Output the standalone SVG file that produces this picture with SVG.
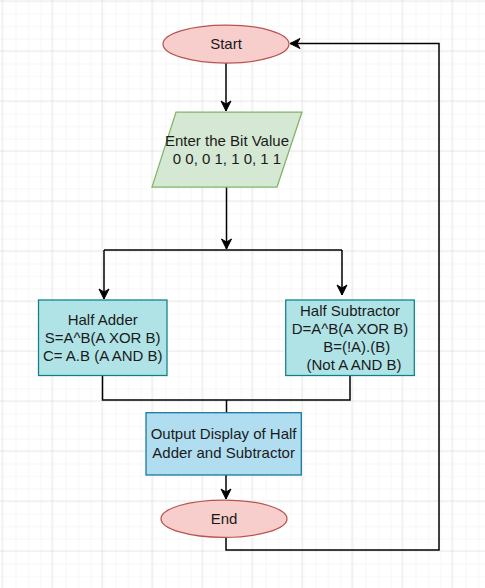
<svg xmlns="http://www.w3.org/2000/svg" width="485" height="588" viewBox="0 0 485 588">
  <defs>
    <pattern id="minor" x="1.5" y="0.5" width="12.5" height="12.5" patternUnits="userSpaceOnUse">
      <path d="M 0 0 L 0 12.5 M 0 0 L 12.5 0" fill="none" stroke="#ededed" stroke-width="1"/>
    </pattern>
    <pattern id="major" x="1.5" y="0.5" width="50" height="50" patternUnits="userSpaceOnUse">
      <rect width="50" height="50" fill="url(#minor)"/>
      <path d="M 0 0 L 0 50 M 0 0 L 50 0" fill="none" stroke="#d6d6d6" stroke-width="1"/>
    </pattern>
    <marker id="arrow" markerUnits="userSpaceOnUse" markerWidth="12" markerHeight="12" viewBox="-11 -6 12 12" refX="0" refY="0" orient="auto">
      <path d="M -10 -5 L 0 0 L -10 5 L -7 0 Z" fill="#000" stroke="#000" stroke-width="1"/>
    </marker>
    <style>
      .conn { fill: none; stroke: #000; stroke-width: 1.5; }
      .txt { font-family: "Liberation Sans", Arial, sans-serif; font-size: 15px; fill: #1a1a1a; text-anchor: middle; }
      .term { fill: #f8cecc; stroke: #b85450; stroke-width: 1.25; }
      .io { fill: #d5e8d4; stroke: #82b366; stroke-width: 1.25; }
      .proc { fill: #b0e3e6; stroke: #0e8088; stroke-width: 1.25; }
      .out { fill: #b1ddf0; stroke: #10739e; stroke-width: 1.25; }
    </style>
  </defs>
  <rect width="485" height="588" fill="#ffffff"/>
  <rect width="485" height="588" fill="url(#major)"/>

  <g id="connectors">
    <path class="conn" d="M 226 63 L 226 111" marker-end="url(#arrow)"/>
    <path class="conn" d="M 226.5 187 L 226.5 249"  marker-end="url(#arrow)"/>
    <path class="conn" d="M 104 250 L 342 250"/>
    <path class="conn" d="M 104 250 L 104 299" marker-end="url(#arrow)"/>
    <path class="conn" d="M 342 250 L 342 295" marker-end="url(#arrow)"/>
    <path class="conn" d="M 102.5 375.5 L 102.5 400 L 350 400 L 350 375.5"/>
    <path class="conn" d="M 226.5 400 L 226.5 412.5"/>
    <path class="conn" d="M 226 475 L 226 499" marker-end="url(#arrow)"/>
    <path class="conn" d="M 226 537.5 L 226 550 L 439 550 L 439 43.5 L 290 43.5" marker-end="url(#arrow)"/>
  </g>

  <g id="start">
    <ellipse class="term" cx="226" cy="44" rx="63" ry="19"/>
    <text class="txt" x="226" y="49">Start</text>
  </g>

  <g id="input">
    <polygon class="io" points="176,112 302,112 277,187 152,187"/>
    <text class="txt" x="227" y="146">Enter the Bit Value</text>
    <text class="txt" x="227" y="164">0 0, 0 1, 1 0, 1 1</text>
  </g>

  <g id="half-adder">
    <rect class="proc" x="38.5" y="300" width="128.5" height="75.5"/>
    <text class="txt" x="102.7" y="325">Half Adder</text>
    <text class="txt" x="102.7" y="343.3">S=A^B(A XOR B)</text>
    <text class="txt" x="102.7" y="361.3">C= A.B (A AND B)</text>
  </g>

  <g id="half-subtractor">
    <rect class="proc" x="285.7" y="300" width="128.6" height="75.5"/>
    <text class="txt" x="350" y="316">Half Subtractor</text>
    <text class="txt" x="350" y="334.3">D=A^B(A XOR B)</text>
    <text class="txt" x="356.7" y="352.3">B=(!A).(B)</text>
    <text class="txt" x="354" y="370">(Not A AND B)</text>
  </g>

  <g id="output">
    <rect class="out" x="146" y="412.7" width="155.3" height="62.3"/>
    <text class="txt" x="223.6" y="439.3">Output Display of Half</text>
    <text class="txt" x="223.6" y="457.7">Adder and Subtractor</text>
  </g>

  <g id="end">
    <ellipse class="term" cx="224" cy="518.7" rx="63" ry="18.7"/>
    <text class="txt" x="224" y="523.7">End</text>
  </g>
</svg>
